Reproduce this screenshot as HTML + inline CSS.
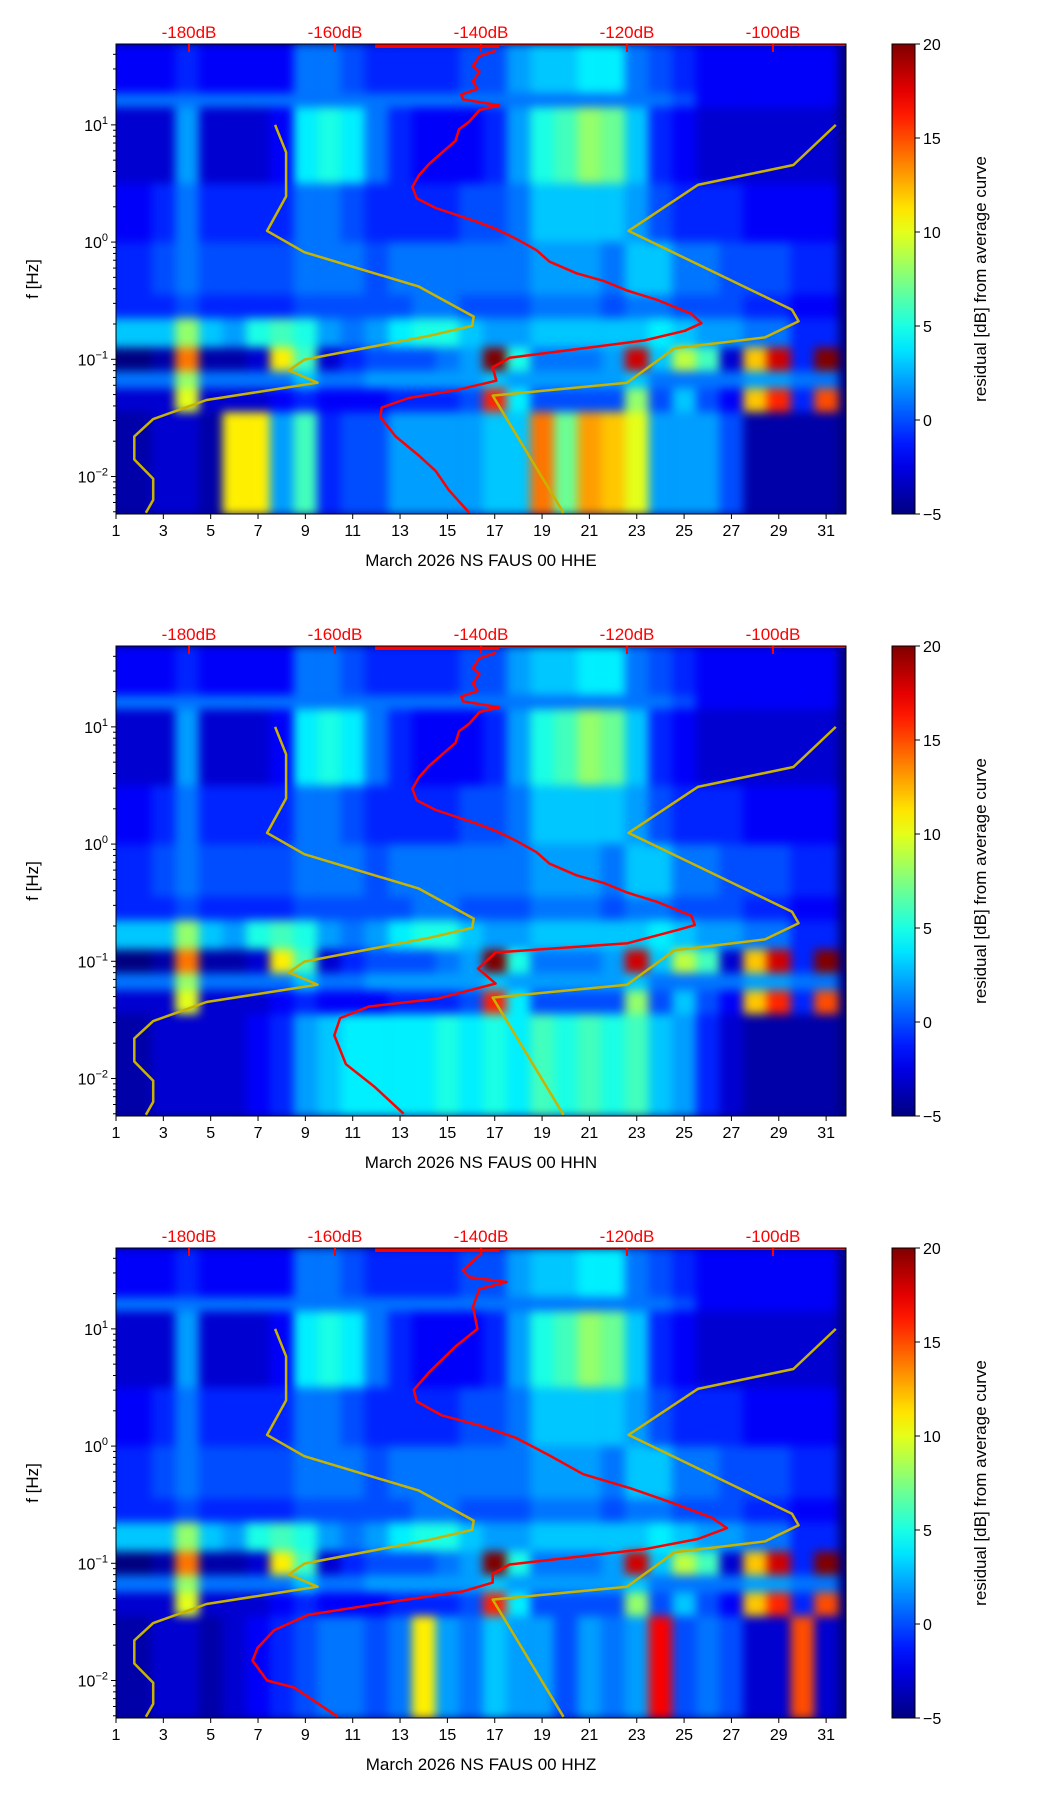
<!DOCTYPE html>
<html><head><meta charset="utf-8">
<style>
html,body{margin:0;padding:0;background:#fff;}
body{width:1052px;height:1806px;position:relative;overflow:hidden;font-family:"Liberation Sans",sans-serif;}
canvas{position:absolute;left:0;top:0;}
</style></head>
<body>
<canvas id="c" width="1052" height="1806"></canvas>
<svg id="s" width="1052" height="1806" style="position:absolute;left:0;top:0"></svg>
<script>
// ---- axis data ----
const dayTicks = [1,3,5,7,9,11,13,15,17,19,21,23,25,27,29,31];
const dbTicks = [-180,-160,-140,-120,-100];
const cbTicks = [-5,0,5,10,15,20];
const yTickExp = [1,0,-1,-2];
const channels = ["HHE","HHN","HHZ"];
// frequency bands (log10 f edges, top -> bottom)
const bandEdges = [1.69,1.27,1.15,0.5,0.0,-0.45,-0.65,-0.9,-1.1,-1.25,-1.45,-2.32];
// residual dB per day (31 days, centred on day tick) per band
const rowTop    = [-2,-2,-2,-1,-2,-2,-2,-2,1,1,0,-1,-1,-1,-1,0,0,2,3,3,4,4,1,0,-1,-2,-2,-2,-2,-2,-2];
const rowLine   = [1,1,1,1,1,1,1,1,1,1,1,1,1,1,1,1,1,1,1,1,1,1,1,1,0,-2,-2,-2,-2,-2,-2];
const rowMid    = [-3,-3,-3,2,-3,-3,-3,-2,4,5,4,1,-1,-2,-2,-2,-1,2,5,6,8,7,3,-1,-2,-3,-3,-3,-3,-3,-3];
const rowOne    = [-2,-2,-1,1,-1,-1,-1,-1,1,1,0,-1,-1,-1,-1,0,0,1,3,3,3,3,2,0,-1,-1,-1,-2,-2,-2,-2];
const rowSub    = [-1,-1,0,1,0,0,0,0,1,1,1,0,1,1,1,1,1,1,2,2,2,1,3,3,1,1,0,0,0,-1,-1];
const rowMicroA = [-1,-1,-1,0,-1,-1,-1,-1,0,0,0,0,0,1,1,0,0,0,1,1,1,0,1,1,0,0,0,-1,-1,-2,-2];
const rowMicroB = [3,3,3,8,3,2,5,6,5,2,1,2,4,5,5,3,2,2,3,3,3,3,3,4,3,2,2,1,1,-1,-1];
const rowHot    = [-5,-5,-4,14,-4,-4,-3,11,6,-3,-1,0,0,0,1,2,20,5,1,1,1,2,18,3,9,6,-3,12,18,-1,20];
const rowMicroC = [1,1,1,8,1,1,1,1,3,1,1,2,2,2,2,2,3,2,2,2,2,2,3,1,1,1,1,2,2,1,1];
const rowHot2   = [-3,-3,-3,10,-3,-3,-3,-2,-1,-2,-2,-2,-1,-1,-1,0,16,4,0,0,0,0,8,0,3,0,-2,12,16,-1,15];
const lowHHE    = [-4,-4,-3,-3,-4,11,11,2,6,-1,0,0,2,2,2,2,3,3,14,7,13,12,10,2,2,2,0,-4,-4,-4,-4];
const lowHHN    = [-4,-4,-3,-3,-3,-3,-2,-1,2,3,4,4,4,4,5,4,5,4,6,5,6,5,6,3,2,-1,-3,-4,-4,-4,-4];
const lowHHZ    = [-4,-4,-3,-3,-4,-3,-2,-1,0,1,1,0,1,11,2,1,3,2,2,0,2,1,2,17,0,1,0,-3,-3,15,-3];
const lowRows = [lowHHE, lowHHN, lowHHZ];
// noise models [dB, log10 f]
const nlnmDb = [-168.2,-166.7,-166.7,-169.3,-164.2,-148.5,-141.0,-141.2,-147.1,-164.2,-166.3,-162.4,-167.4,-177.6,-184.9,-187.5,-187.5,-184.9,-184.9,-185.9];
const nlnmF  = [1.0,0.766,0.39,0.095,-0.086,-0.38,-0.636,-0.715,-0.80,-1.003,-1.095,-1.20,-1.248,-1.347,-1.51,-1.658,-1.855,-2.02,-2.20,-2.31];
const nhnmDb = [-91.4,-97.2,-110.3,-119.8,-97.4,-96.5,-101.1,-113.5,-120.0,-138.4,-128.7];
const nhnmF  = [1.0,0.658,0.488,0.095,-0.577,-0.675,-0.813,-0.905,-1.20,-1.31,-2.31];
// average curves [dB] and [log10 f]
const avgUpDb = [-137.9,-140.2,-141.1,-140.2,-141.1,-140.5,-142.7,-142.5,-137.5,-140.2,-141.6,-143.0,-143.5,-145.3,-147.1,-148.5,-149.4,-148.8,-146.2,-140.7,-137.9,-135.2,-132.4,-130.6,-126.9,-123.2,-120.0,-115.8,-111.2];
const avgUpF  = [1.634,1.585,1.503,1.454,1.372,1.307,1.258,1.218,1.166,1.127,1.028,0.963,0.864,0.766,0.668,0.570,0.471,0.373,0.291,0.177,0.111,0.029,-0.069,-0.167,-0.266,-0.331,-0.413,-0.495,-0.610];
const avgLowHHEdb = [-109.8,-112.1,-117.6,-127.8,-136.1,-138.4,-137.9,-143.5,-149.9,-153.6,-153.8,-151.7,-148.5,-146.2,-144.4,-141.6];
const avgLowHHEf  = [-0.692,-0.757,-0.839,-0.921,-0.987,-1.068,-1.183,-1.265,-1.330,-1.412,-1.494,-1.658,-1.822,-1.953,-2.117,-2.31];
const avgLowHHNdb = [-110.7,-112.8,-119.9,-138.0,-140.4,-138.0,-145.9,-155.4,-159.3,-160.1,-158.5,-154.6,-150.6];
const avgLowHHNf  = [-0.69,-0.728,-0.846,-0.925,-1.062,-1.19,-1.318,-1.387,-1.485,-1.632,-1.878,-2.07,-2.30];
const avgHHZdb = [-139.8,-142.5,-141.6,-136.5,-140.2,-141.1,-140.5,-143.5,-147.1,-149.2,-148.8,-145.3,-139.8,-135.2,-130.6,-126.0,-119.5,-114.0,-108.4,-106.3,-110.3,-117.6,-136.1,-138.4,-138.4,-142.5,-154.5,-163.7,-168.3,-170.6,-171.3,-169.3,-165.6,-159.6];
const avgHHZf  = [1.65,1.50,1.44,1.40,1.34,1.19,1.0,0.85,0.63,0.48,0.38,0.26,0.17,0.07,-0.08,-0.24,-0.36,-0.48,-0.61,-0.70,-0.793,-0.88,-1.01,-1.09,-1.165,-1.24,-1.35,-1.44,-1.57,-1.72,-1.83,-2.0,-2.06,-2.31];

const L=116, W=730, H=470, DX0=1, DX1=31.84, LF0=1.69, LF1=-2.32, DB0=-190, DB1=-90;
const CBX=892, CBW=23, VMIN=-5, VMAX=20;
const xDay = d => L + (d-DX0)/(DX1-DX0)*W;
const xDb = v => L + (v-DB0)/(DB1-DB0)*W;
const yF = (T,lf) => T + (LF0-lf)/(LF0-LF1)*H;
function jet(v){
  let t=(v-VMIN)/(VMAX-VMIN); t=Math.max(0,Math.min(1,t));
  const cl=x=>Math.round(255*Math.max(0,Math.min(1,x)));
  return `rgb(${cl(1.5-Math.abs(4*t-3))},${cl(1.5-Math.abs(4*t-2))},${cl(1.5-Math.abs(4*t-1))})`;
}
const ctx=document.getElementById('c').getContext('2d');
const svg=document.getElementById('s');
const NS="http://www.w3.org/2000/svg";
function mk(tag,attrs,name,parent){
  const e=document.createElementNS(NS,tag);
  for(const k in attrs) e.setAttribute(k,attrs[k]);
  
  
  (parent||svg).appendChild(e); return e;
}
const off=document.createElement('canvas'); off.width=1052; off.height=1806;
const octx=off.getContext('2d');

channels.forEach((ch,p)=>{
  const T=44+p*602;
  const rows=[rowTop,rowLine,rowMid,rowOne,rowSub,rowMicroA,rowMicroB,rowHot,rowMicroC,rowHot2,lowRows[p]];
  ctx.fillStyle=jet(-5); ctx.fillRect(L,T,W,H);
  octx.clearRect(0,0,1052,1806);
  rows.forEach((row,ri)=>{
    const y0=yF(T,bandEdges[ri]), y1=yF(T,bandEdges[ri+1]);
    row.forEach((v,di)=>{
      const x0=Math.max(xDay(di+0.5),L-10), x1=Math.min(xDay(di+1.5),L+W+10);
      octx.fillStyle=jet(v); octx.fillRect(x0,y0,x1-x0+0.5,y1-y0+0.5);
    });
  });
  ctx.save(); ctx.beginPath(); ctx.rect(L,T,W,H); ctx.clip();
  ctx.filter='blur(5px)'; ctx.drawImage(off,0,0); ctx.filter='none';
  ctx.restore();

  const g=mk('g',{},'panel-'+ch.toLowerCase());
  const poly=(xs,ys,col,w,name)=>{
    const pts=xs.map((v,i)=>xDb(v).toFixed(1)+','+yF(T,ys[i]).toFixed(1)).join(' ');
    mk('polyline',{points:pts,fill:'none',stroke:col,'stroke-width':w,'stroke-linejoin':'round'},name,g);
  };
  poly(nlnmDb,nlnmF,'#c8b400',2.5,'nlnm-curve');
  poly(nhnmDb,nhnmF,'#c8b400',2.5,'nhnm-curve');
  let rdb,rf;
  if(p===0){rdb=avgUpDb.concat(avgLowHHEdb);rf=avgUpF.concat(avgLowHHEf);}
  else if(p===1){rdb=avgUpDb.concat(avgLowHHNdb);rf=avgUpF.concat(avgLowHHNf);}
  else {rdb=avgHHZdb;rf=avgHHZf;}
  poly(rdb,rf,'#ff0000',2.5,'average-curve');
  mk('line',{x1:xDb(-154.5),x2:xDb(-137.5),y1:T+2,y2:T+2,stroke:'#ff0000','stroke-width':4},'average-top-segment',g);
  mk('line',{x1:xDb(-137.5),x2:L+W,y1:T+1,y2:T+1,stroke:'#ff0000','stroke-width':2},'average-top-line',g);
  mk('rect',{x:L,y:T,width:W,height:H,fill:'none',stroke:'#000','stroke-width':1},'plot-frame',g);
  dayTicks.forEach(d=>{
    const x=xDay(d);
    mk('line',{x1:x,x2:x,y1:T+H,y2:T+H+5,stroke:'#000'},'x-tick',g);
    const t=mk('text',{x:x,y:T+H+22,'font-size':16,'text-anchor':'middle'},'x-tick-label',g); t.textContent=d;
  });
  const xl=mk('text',{x:L+W/2,y:T+H+52,'font-size':17,'text-anchor':'middle'},'x-axis-title',g);
  xl.textContent='March 2026 NS FAUS 00 '+ch;
  yTickExp.forEach(e=>{
    const y=yF(T,e);
    mk('line',{x1:L-5,x2:L,y1:y,y2:y,stroke:'#000'},'y-tick',g);
    const t=mk('text',{x:L-8,y:y+6,'font-size':16,'text-anchor':'end'},'y-tick-label',g);
    t.textContent='10';
    const sp=document.createElementNS(NS,'tspan'); sp.setAttribute('dy','-7'); sp.setAttribute('font-size','11');
    sp.textContent=e<0?'\u2212'+(-e):String(e); t.appendChild(sp);
  });
  for(let e=-3;e<=1;e++) for(let m=2;m<=9;m++){
    const lf=e+Math.log10(m); if(lf>LF0||lf<LF1) continue;
    const y=yF(T,lf);
    mk('line',{x1:L-3,x2:L,y1:y,y2:y,stroke:'#000'},'y-minor-tick',g);
  }
  const yl=mk('text',{x:0,y:0,'font-size':17,'text-anchor':'middle',transform:`translate(38,${T+H/2}) rotate(-90)`},'y-axis-title',g);
  yl.textContent='f [Hz]';
  dbTicks.forEach(v=>{
    const x=xDb(v);
    mk('line',{x1:x,x2:x,y1:T,y2:T+8,stroke:'#ff0000','stroke-width':2},'db-tick',g);
    const t=mk('text',{x:x,y:T-6,'font-size':17,'text-anchor':'middle',fill:'#ff0000'},'db-tick-label',g); t.textContent=v+'dB';
  });
  const gr=ctx.createLinearGradient(0,T+H,0,T);
  for(let i=0;i<=20;i++){gr.addColorStop(i/20,jet(VMIN+(VMAX-VMIN)*i/20));}
  ctx.fillStyle=gr; ctx.fillRect(CBX,T,CBW,H);
  mk('rect',{x:CBX,y:T,width:CBW,height:H,fill:'none',stroke:'#000'},'colorbar',g);
  cbTicks.forEach(v=>{
    const y=T+H-(v-VMIN)/(VMAX-VMIN)*H;
    mk('line',{x1:CBX+CBW,x2:CBX+CBW+5,y1:y,y2:y,stroke:'#000'},'colorbar-tick',g);
    const t=mk('text',{x:CBX+CBW+8,y:y+6,'font-size':16},'colorbar-tick-label',g); t.textContent=v<0?'\u2212'+(-v):v;
  });
  const cl=mk('text',{x:0,y:0,'font-size':17,'text-anchor':'middle',transform:`translate(986,${T+H/2}) rotate(-90)`},'colorbar-title',g);
  cl.textContent='residual [dB] from average curve';
});
</script>
</body></html>
